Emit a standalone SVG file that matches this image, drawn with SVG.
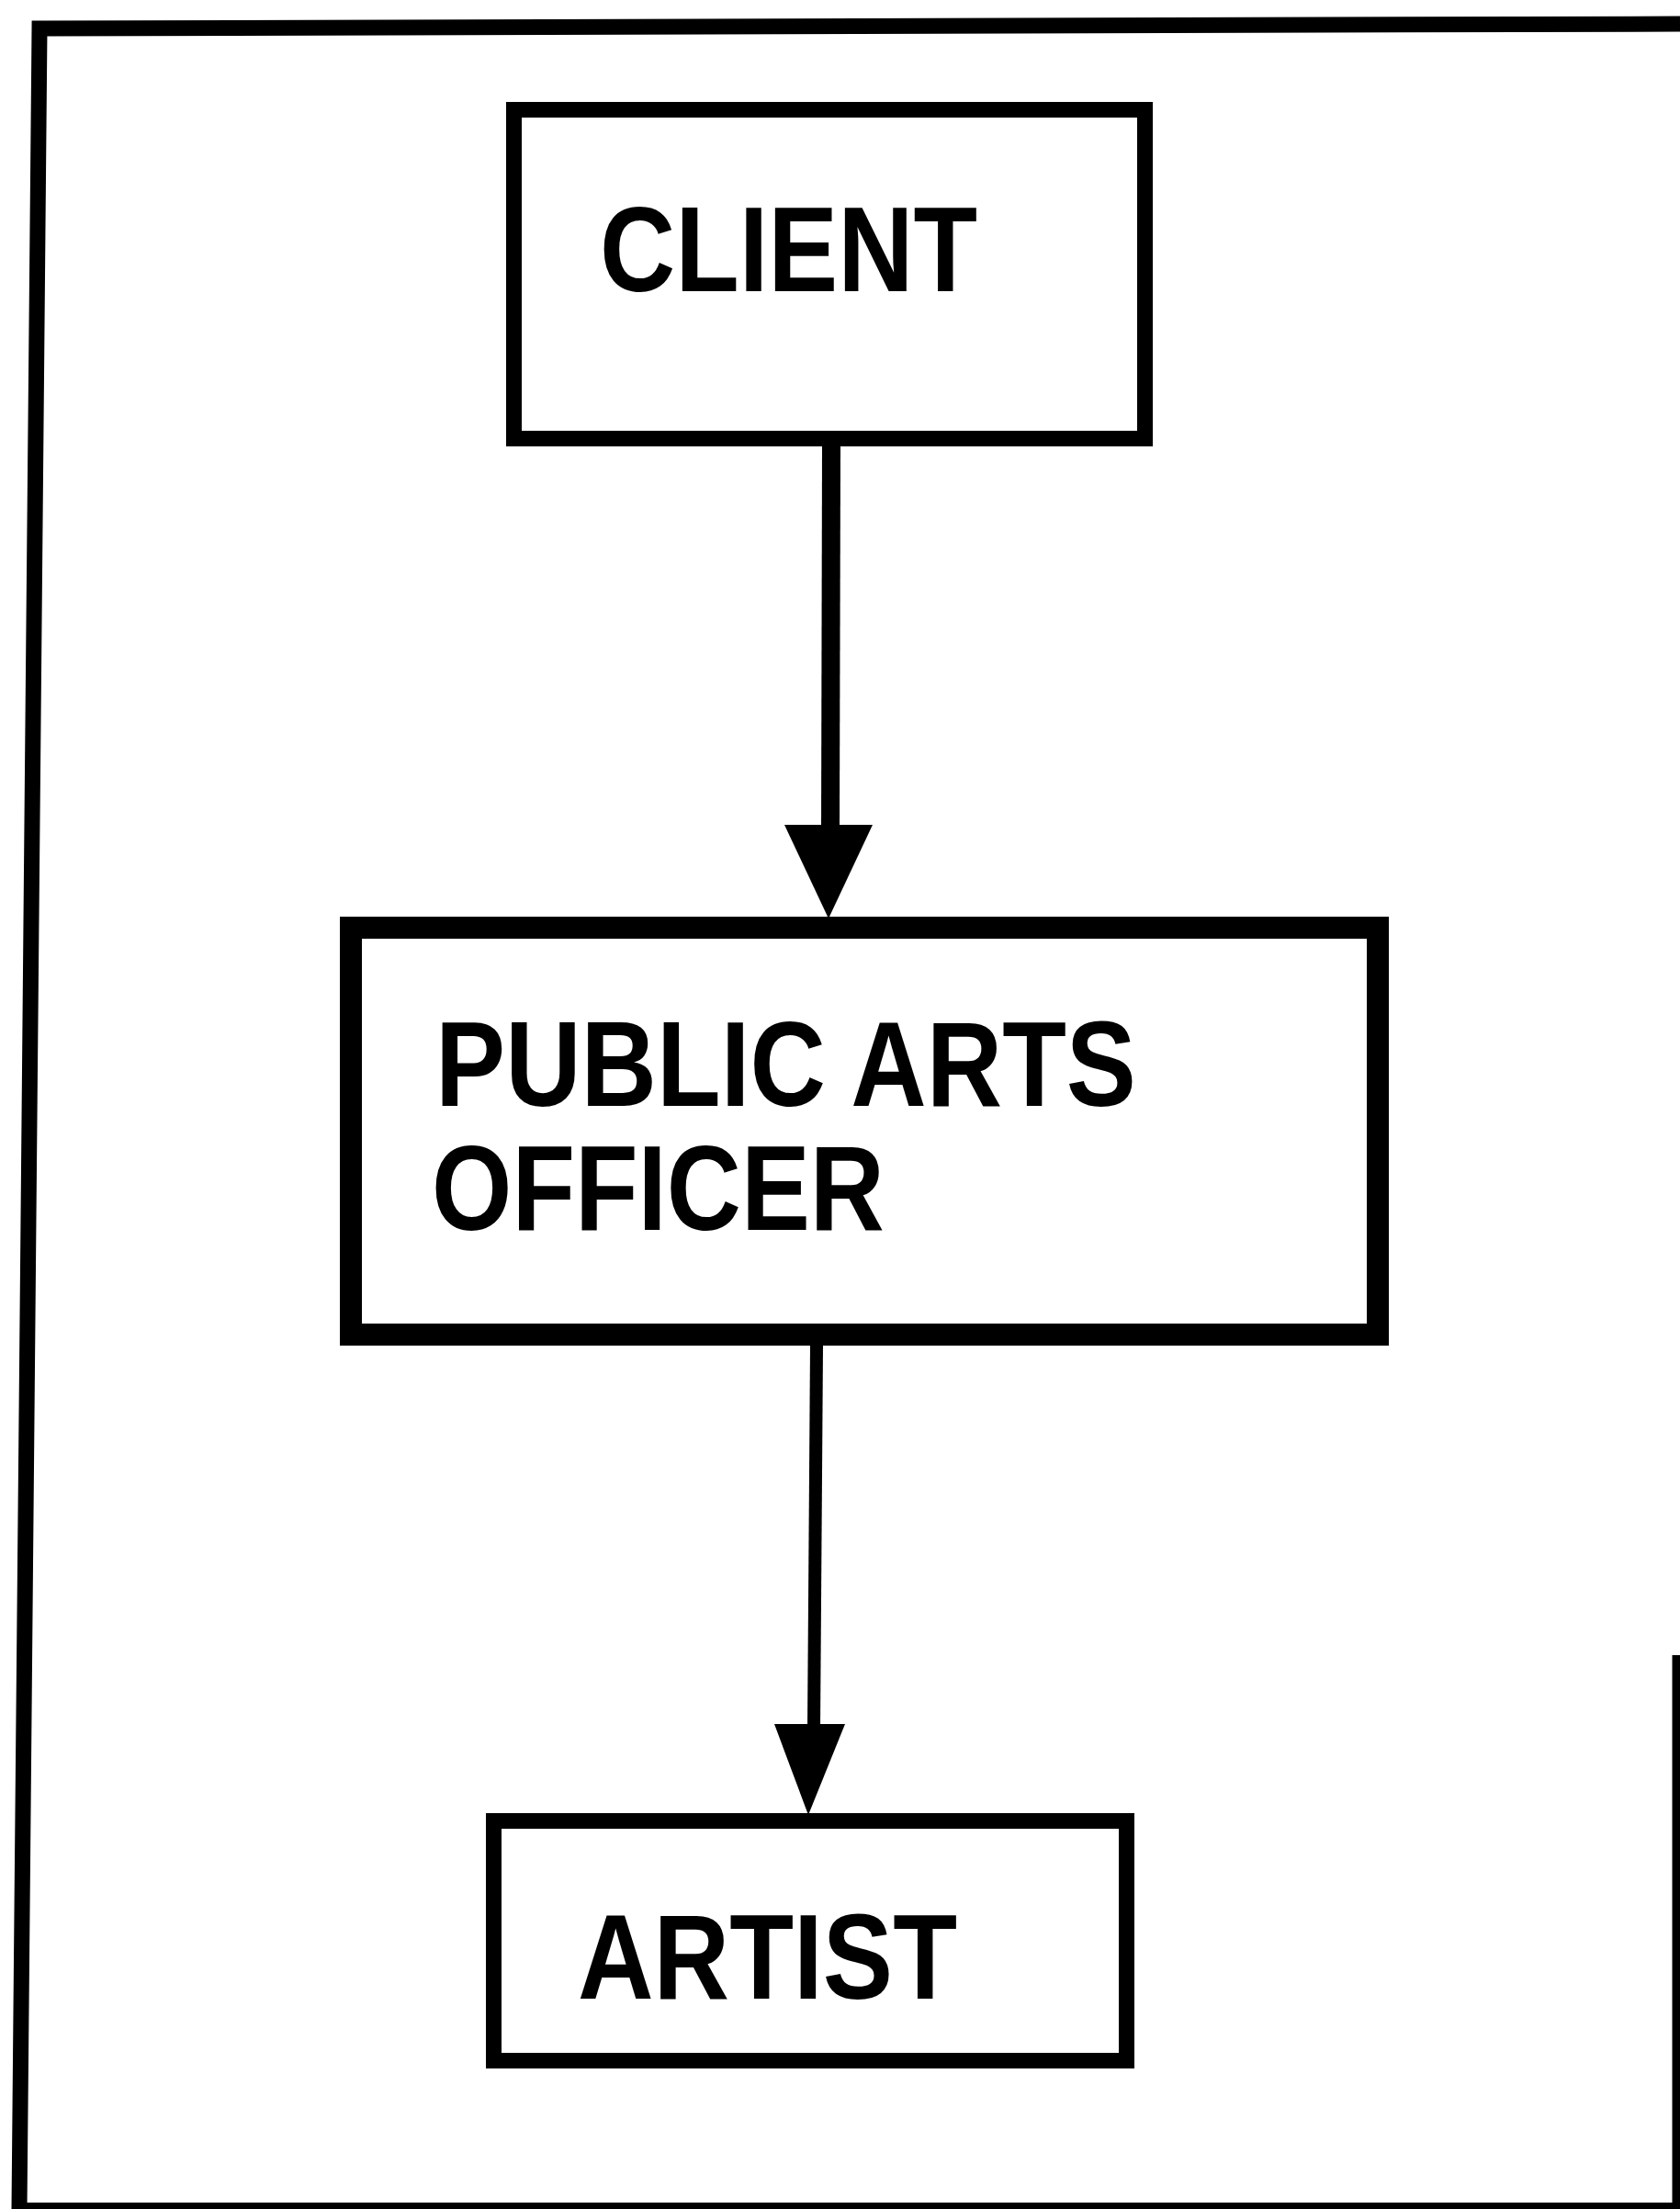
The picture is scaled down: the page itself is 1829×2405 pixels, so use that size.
<svg xmlns="http://www.w3.org/2000/svg" width="1829" height="2405" viewBox="0 0 1829 2405">
  <style>
    .box { fill: #fff; stroke: #000; }
    .label { font-family: "Liberation Sans", Arial, sans-serif; font-weight: bold; font-size: 131px; fill: #000; }
    .frame { stroke: #000; fill: none; stroke-linejoin: miter; }
    .link { stroke: #000; fill: none; }
    .head { fill: #000; stroke: none; }
  </style>
  <rect x="0" y="0" width="1829" height="2405" fill="#fff"/>

  <!-- outer frame: left and top edges drawn as one stroke, then right and bottom -->
  <g id="frame">
    <path class="frame" d="M21,2405 L43,31 L1829,26" stroke-width="17"/>
    <line class="frame" x1="1825" y1="1802" x2="1825" y2="2405" stroke-width="9"/>
    <line class="frame" x1="21" y1="2402" x2="1829" y2="2402" stroke-width="8"/>
  </g>

  <!-- connectors -->
  <g id="connectors">
    <line class="link" x1="905" y1="486" x2="904" y2="905" stroke-width="20"/>
    <polygon class="head" points="854,898 950,898 902,1000"/>
    <line class="link" x1="889" y1="1465" x2="886" y2="1882" stroke-width="14"/>
    <polygon class="head" points="843,1877 920,1877 880,1976"/>
  </g>

  <g id="client">
    <rect class="box" x="559.5" y="119.5" width="687" height="358" stroke-width="17"/>
    <text class="label" x="653" y="317" textLength="411" lengthAdjust="spacingAndGlyphs">CLIENT</text>
  </g>

  <g id="public-arts-officer">
    <rect class="box" x="382" y="1010" width="1118" height="443" stroke-width="24"/>
    <text class="label" x="474" y="1204" textLength="763" lengthAdjust="spacingAndGlyphs">PUBLIC ARTS</text>
    <text class="label" x="470" y="1339" textLength="493" lengthAdjust="spacingAndGlyphs">OFFICER</text>
  </g>

  <g id="artist">
    <rect class="box" x="537.5" y="1982.5" width="689" height="261" stroke-width="17"/>
    <text class="label" x="629" y="2176" textLength="413" lengthAdjust="spacingAndGlyphs">ARTIST</text>
  </g>
</svg>
